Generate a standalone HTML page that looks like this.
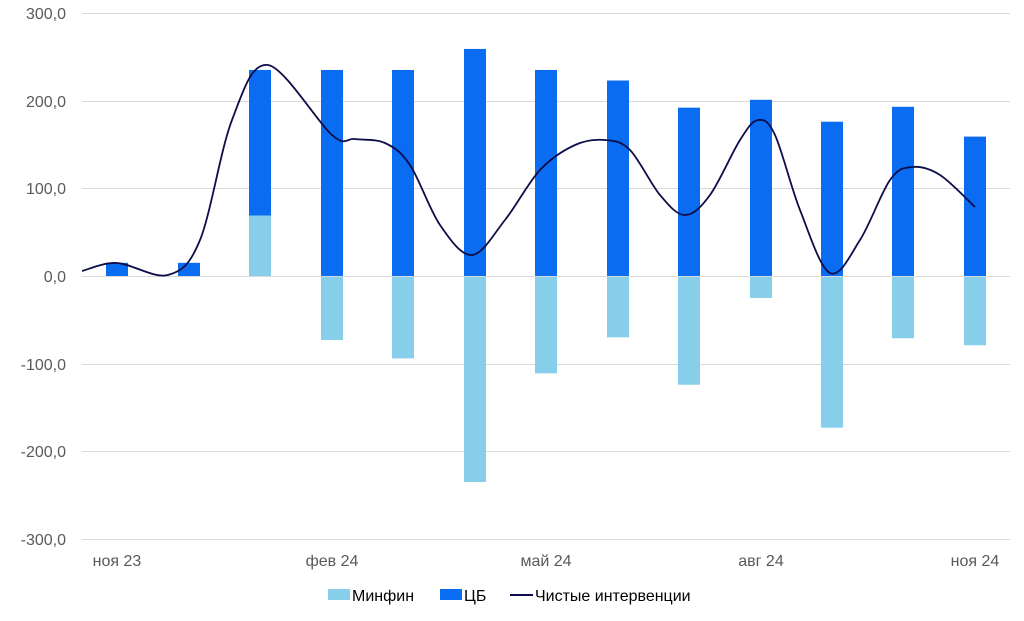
<!DOCTYPE html>
<html><head><meta charset="utf-8"><style>
body{margin:0;background:#fff;width:1024px;height:616px;overflow:hidden;font-family:"Liberation Sans",sans-serif}
</style></head><body>
<svg id="s" width="1024" height="616" xmlns="http://www.w3.org/2000/svg" font-family="Liberation Sans, sans-serif">
<g stroke="#d9d9d9" stroke-width="1">
<line x1="82" x2="1010" y1="13.5" y2="13.5"/><line x1="82" x2="1010" y1="101.5" y2="101.5"/>
<line x1="82" x2="1010" y1="188.5" y2="188.5"/><line x1="82" x2="1010" y1="364.5" y2="364.5"/>
<line x1="82" x2="1010" y1="451.5" y2="451.5"/><line x1="82" x2="1010" y1="539.5" y2="539.5"/>
</g>
<g font-size="16" fill="#595959" text-anchor="end">
<text x="66" y="19">300,0</text><text x="66" y="107">200,0</text><text x="66" y="194">100,0</text>
<text x="66" y="282">0,0</text><text x="66" y="370">-100,0</text><text x="66" y="457">-200,0</text><text x="66" y="545">-300,0</text>
</g>
<g id="bars"></g>
<line x1="82" x2="1010" y1="276.5" y2="276.5" stroke="#d9d9d9"/>
<path id="ln" fill="none" stroke="#0d0d4a" stroke-width="1.8"/>
<g font-size="16" fill="#595959" text-anchor="middle">
<text x="117" y="566">ноя 23</text><text x="332" y="566">фев 24</text><text x="546" y="566">май 24</text>
<text x="761" y="566">авг 24</text><text x="975" y="566">ноя 24</text>
</g>
<rect x="328" y="589" width="22" height="11" fill="#87ceeb"/>
<text x="352" y="601" font-size="16" fill="#000">Минфин</text>
<rect x="440" y="589" width="22" height="11" fill="#0a6cf0"/>
<text x="464" y="601" font-size="16" fill="#000">ЦБ</text>
<line x1="510" x2="533" y1="595" y2="595" stroke="#0d0d4a" stroke-width="2"/>
<text x="535" y="601" font-size="16" fill="#000">Чистые интервенции</text>
</svg>
<script>
var S=0.8767,Z=276;
var cx=[117,189,260,332,403,475,546,618,689,761,832,903,975];
var cb=[15,15,235,235,235,259,235,223,192,201,176,193,159];
var mf=[0,0,69,-73,-94,-235,-111,-70,-124,-25,-173,-71,-79];
var g=document.getElementById('bars'),h='';
for(var i=0;i<13;i++){var x=cx[i]-11;
var lo=mf[i]>0?mf[i]:0;
h+='<rect x="'+x+'" y="'+(Z-cb[i]*S)+'" width="22" height="'+((cb[i]-lo)*S)+'" fill="#0a6cf0"/>';
if(mf[i]>0)h+='<rect x="'+x+'" y="'+(Z-mf[i]*S)+'" width="22" height="'+(mf[i]*S)+'" fill="#87ceeb"/>';
else if(mf[i]<0)h+='<rect x="'+x+'" y="'+Z+'" width="22" height="'+(-mf[i]*S)+'" fill="#87ceeb"/>';}
g.innerHTML=h;
var p=[[82,271],[117,263],[168,275],[200,240],[232,120],[268,65],[332,135],[355,139],[385,143],[410,165],[440,225],[472,255],[505,220],[540,170],[575,145],[605,140],[630,150],[660,195],[685,215],[710,195],[740,140],[758,120],[775,135],[800,210],[830,273],[860,240],[890,180],[912,167],[940,175],[975,207]];
var d='M'+p[0];
for(var i=0;i<p.length-1;i++){var a=p[i-1]||p[i],b=p[i],c=p[i+1],e=p[i+2]||c;
d+=' C'+(b[0]+(c[0]-a[0])/6)+','+(b[1]+(c[1]-a[1])/6)+' '+(c[0]-(e[0]-b[0])/6)+','+(c[1]-(e[1]-b[1])/6)+' '+c[0]+','+c[1];}
document.getElementById('ln').setAttribute('d',d);
</script>
</body></html>
